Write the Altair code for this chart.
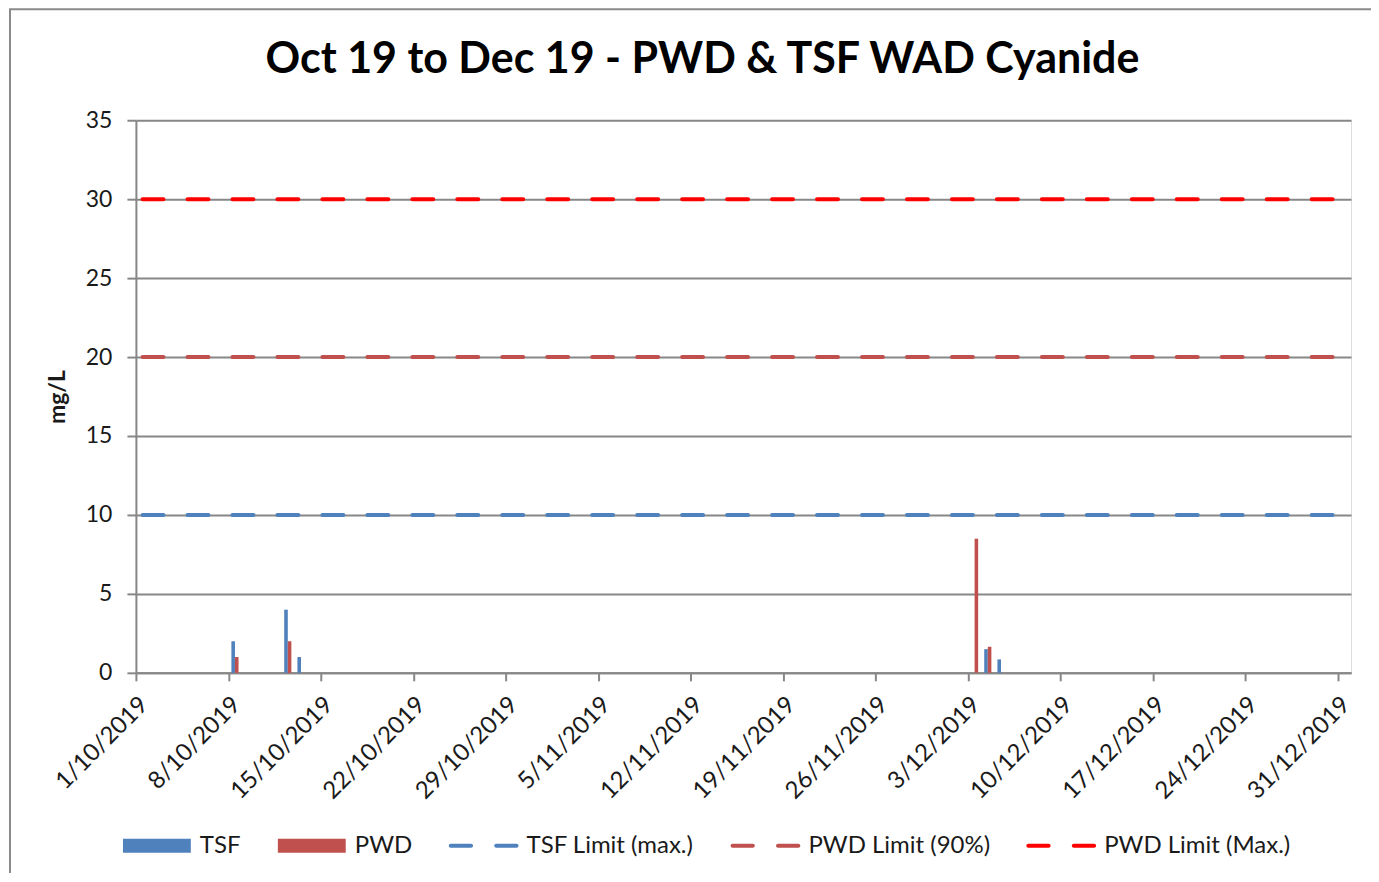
import altair as alt
import pandas as pd

# ---- data ----
tsf_dates = ["2019-10-08", "2019-10-12", "2019-10-13", "2019-12-04", "2019-12-05"]
tsf_values = [2.0, 4.0, 1.0, 1.5, 0.85]
pwd_dates = ["2019-10-08", "2019-10-12", "2019-12-03", "2019-12-04"]
pwd_values = [1.0, 2.0, 8.5, 1.65]

limit_names = ["TSF Limit (max.)", "PWD Limit (90%)", "PWD Limit (Max.)"]
limit_values = [10, 20, 30]
limit_colors = ["#4F81BD", "#C0504D", "#FF0000"]
period_start = "2019-10-01"
period_end = "2019-12-31"

tick_dates = ["2019-10-01", "2019-10-08", "2019-10-15", "2019-10-22", "2019-10-29",
              "2019-11-05", "2019-11-12", "2019-11-19", "2019-11-26", "2019-12-03",
              "2019-12-10", "2019-12-17", "2019-12-24", "2019-12-31"]
y_ticks = [0, 5, 10, 15, 20, 25, 30, 35]

bar_names = ["TSF", "PWD"]
bar_colors = ["#4F81BD", "#C0504D"]
series_names = bar_names + limit_names
series_colors = bar_colors + limit_colors

# legend symbols (unit-square SVG paths): filled box for bars, two dashes for limits
box = "M-0.97,-0.2H0.97V0.2H-0.97Z"
dash = ("M-0.94,-0.057H-0.36A0.057,0.057 0 0 1 -0.36,0.057H-0.94A0.057,0.057 0 0 1 -0.94,-0.057Z"
        "M0.36,-0.057H0.94A0.057,0.057 0 0 1 0.94,0.057H0.36A0.057,0.057 0 0 1 0.36,-0.057Z")
legend_shapes = [box, box, dash, dash, dash]

# ---- tables ----
bars = pd.DataFrame({
    "series": ["TSF"] * len(tsf_dates) + ["PWD"] * len(pwd_dates),
    "date": tsf_dates + pwd_dates,
    "value": tsf_values + pwd_values,
})
limits = pd.DataFrame({"series": limit_names, "value": limit_values})
legend_df = pd.DataFrame({"series": series_names})

HOUR = 3600000
tick_ms = [int(pd.Timestamp(d, tz="UTC").value // 10**6) for d in tick_dates]

FONT = "Lato"
GRID = "#878787"
TEXT = "#1a1a1a"

x_scale = alt.Scale(
    type="utc", padding=0,
    domain=[alt.DateTime(year=2019, month=10, date=1, utc=True),
            alt.DateTime(year=2020, month=1, date=1, utc=True)],
)
y_scale = alt.Scale(domain=[0, 35], nice=False, zero=True, padding=0)

x_axis = alt.Axis(
    values=tick_ms, title=None,
    labelExpr="utcFormat(datum.value, '%-d/%m/%Y')",
    labelAngle=315, labelAlign="right", labelBaseline="middle",
    labelFont=FONT, labelFontSize=24, labelColor=TEXT, labelPadding=20, labelOffset=8,
    tickSize=8, tickWidth=2, tickColor=GRID, tickOffset=0,
    domainColor=GRID, domainWidth=2,
    grid=False, labelOverlap=False, labelBound=False, labelFlush=False,
)
y_axis = alt.Axis(
    values=y_ticks, title="mg/L", titleFont=FONT, titleFontSize=23, titleFontWeight="bold",
    titleColor=TEXT, titlePadding=16,
    labelFont=FONT, labelFontSize=23, labelColor=TEXT, labelPadding=15,
    tickSize=9, tickWidth=2, tickColor=GRID, domainColor=GRID, domainWidth=2,
    grid=True, gridColor=GRID, gridWidth=2,
)

bar_layer = alt.Chart(bars).transform_calculate(
    t0="time(toDate(datum.date))"
).transform_calculate(
    x0=f"datum.t0 + (datum.series == 'TSF' ? 5.5 : 12) * {HOUR}",
    x1=f"datum.t0 + (datum.series == 'TSF' ? 12 : 18.5) * {HOUR}",
).mark_bar(strokeWidth=0, orient="vertical").encode(
    x=alt.X("x0:T", scale=x_scale, axis=x_axis),
    x2="x1:T",
    y=alt.Y("value:Q", scale=y_scale, axis=y_axis),
    y2=alt.datum(0),
    color=alt.Color("series:N", scale=alt.Scale(domain=bar_names, range=bar_colors), legend=None),
)

limit_layer = alt.Chart(limits).transform_calculate(
    xs=f"time(toDate('{period_start}')) + 12 * {HOUR}",
    xe=f"time(toDate('{period_end}')) + 12 * {HOUR}",
).mark_rule(strokeWidth=4, strokeDash=[21, 24], strokeCap="round").encode(
    x=alt.X("xs:T", scale=x_scale),
    x2="xe:T",
    y=alt.Y("value:Q", scale=y_scale),
    stroke=alt.Stroke("series:N", scale=alt.Scale(domain=limit_names, range=limit_colors), legend=None),
)

legend_layer = alt.Chart(legend_df).transform_filter("false").mark_point(
    filled=True, size=4900, opacity=1
).encode(
    fill=alt.Fill(
        "series:N", scale=alt.Scale(domain=series_names, range=series_colors),
        legend=alt.Legend(
            orient="none", legendX=-14, legendY=691, direction="horizontal", columns=5,
            title=None, symbolSize=4900, symbolStrokeWidth=0, symbolOpacity=1,
            labelFont=FONT, labelFontSize=24, labelColor=TEXT, labelOffset=8,
            columnPadding=36, padding=0, labelLimit=400,
        ),
    ),
    shape=alt.Shape("series:N", scale=alt.Scale(domain=series_names, range=legend_shapes)),
)

border = alt.Chart(legend_df).transform_filter("datum.series == 'TSF'").mark_rect(
    fillOpacity=0, stroke="#8a8a8a", strokeWidth=2
).encode(
    x=alt.value(-126), x2=alt.value(1400), y=alt.value(-111), y2=alt.value(900)
)

chart = alt.layer(border, limit_layer, bar_layer, legend_layer).properties(
    width=1216, height=553,
    title=alt.TitleParams(
        "Oct 19 to Dec 19 - PWD & TSF WAD Cyanide",
        font=FONT, fontSize=43, fontWeight="bold", color="#000000",
        anchor="middle", dx=-41, offset=0, dy=74,
    ),
    autosize=alt.AutoSizeParams(type="none"),
    padding={"left": 128, "top": 112, "right": 20, "bottom": 200},
).configure_view(stroke=None).configure(background="white")

chart.save("out.html", embed_options={"renderer": "svg", "actions": False})
